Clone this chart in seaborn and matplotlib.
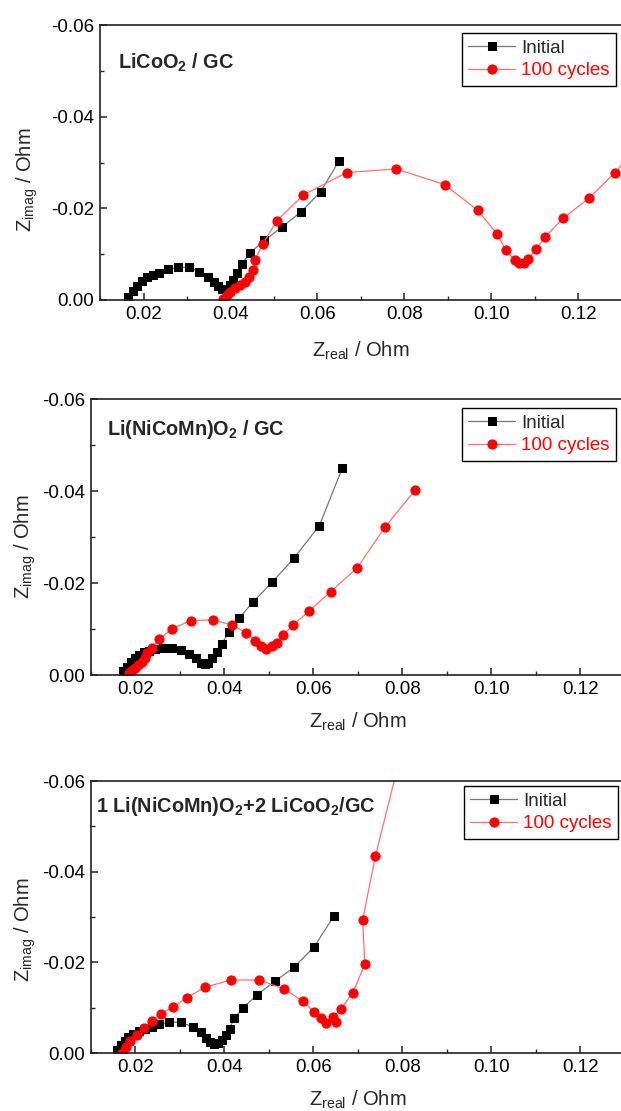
import matplotlib
matplotlib.use("Agg")
import matplotlib.pyplot as plt
import seaborn as sns
import pandas as pd
from matplotlib.ticker import MultipleLocator, FormatStrFormatter

# ---------------- data (Z_real, Z_imag in Ohm) ----------------
series_labels = ["Initial", "100 cycles"]
panel_titles = [r"LiCoO$_\mathbf{2}$ / GC",
                r"Li(NiCoMn)O$_\mathbf{2}$ / GC",
                r"1 Li(NiCoMn)O$_\mathbf{2}$+2 LiCoO$_\mathbf{2}$/GC"]

p1_init_x = [0.0165, 0.0175, 0.0184, 0.0196, 0.0207, 0.0221, 0.0236, 0.0257, 0.0280, 0.0305,
             0.0328, 0.0349, 0.0363, 0.0372, 0.0380, 0.0389, 0.0399, 0.0406, 0.0416, 0.0426,
             0.0445, 0.0478, 0.0518, 0.0562, 0.0607, 0.0650]
p1_init_y = [-0.0007, -0.0020, -0.0031, -0.0041, -0.0050, -0.0055, -0.0060, -0.0067, -0.0071, -0.0071,
             -0.0062, -0.0051, -0.0040, -0.0031, -0.0024, -0.0024, -0.0033, -0.0044, -0.0058, -0.0078,
             -0.0103, -0.0130, -0.0159, -0.0192, -0.0236, -0.0304]
p1_cyc_x = [0.0383, 0.0391, 0.0400, 0.0410, 0.0422, 0.0433, 0.0443, 0.0451, 0.0456, 0.0474,
            0.0506, 0.0567, 0.0667, 0.0780, 0.0892, 0.0968, 0.1012, 0.1033, 0.1054, 0.1064,
            0.1075, 0.1085, 0.1102, 0.1124, 0.1164, 0.1224, 0.1284, 0.1340]
p1_cyc_y = [-0.0002, -0.0011, -0.0018, -0.0026, -0.0033, -0.0040, -0.0051, -0.0065, -0.0087, -0.0122,
            -0.0172, -0.0229, -0.0278, -0.0286, -0.0252, -0.0196, -0.0145, -0.0109, -0.0087, -0.0080,
            -0.0080, -0.0089, -0.0111, -0.0138, -0.0178, -0.0222, -0.0278, -0.0340]

p2_init_x = [0.0172, 0.0181, 0.0190, 0.0200, 0.0209, 0.0220, 0.0232, 0.0244, 0.0263, 0.0283,
             0.0304, 0.0322, 0.0337, 0.0348, 0.0357, 0.0364, 0.0373, 0.0383, 0.0394, 0.0411,
             0.0433, 0.0464, 0.0508, 0.0557, 0.0614, 0.0665]
p2_init_y = [-0.0009, -0.0018, -0.0028, -0.0036, -0.0043, -0.0049, -0.0053, -0.0056, -0.0058, -0.0059,
             -0.0054, -0.0046, -0.0036, -0.0027, -0.0023, -0.0027, -0.0038, -0.0051, -0.0067, -0.0094,
             -0.0123, -0.0158, -0.0202, -0.0254, -0.0325, -0.0449]
p2_cyc_x = [0.0185, 0.0192, 0.0200, 0.0207, 0.0215, 0.0222, 0.0226, 0.0237, 0.0254, 0.0283,
            0.0325, 0.0374, 0.0417, 0.0449, 0.0469, 0.0483, 0.0494, 0.0507, 0.0518, 0.0533,
            0.0555, 0.0591, 0.0639, 0.0699, 0.0761, 0.0829]
p2_cyc_y = [-0.0004, -0.0011, -0.0016, -0.0022, -0.0029, -0.0038, -0.0047, -0.0058, -0.0078, -0.0101,
            -0.0118, -0.0120, -0.0109, -0.0092, -0.0074, -0.0062, -0.0056, -0.0062, -0.0069, -0.0088,
            -0.0109, -0.0139, -0.0181, -0.0233, -0.0321, -0.0402]

p3_init_x = [0.0160, 0.0167, 0.0176, 0.0184, 0.0196, 0.0209, 0.0222, 0.0237, 0.0254, 0.0277,
             0.0302, 0.0329, 0.0347, 0.0358, 0.0368, 0.0377, 0.0387, 0.0396, 0.0404, 0.0412,
             0.0423, 0.0443, 0.0473, 0.0514, 0.0557, 0.0602, 0.0647]
p3_init_y = [-0.0007, -0.0018, -0.0027, -0.0036, -0.0043, -0.0049, -0.0054, -0.0058, -0.0063, -0.0068,
             -0.0068, -0.0058, -0.0046, -0.0032, -0.0024, -0.0020, -0.0021, -0.0029, -0.0040, -0.0054,
             -0.0077, -0.0100, -0.0128, -0.0158, -0.0189, -0.0234, -0.0303]
p3_cyc_x = [0.0171, 0.0179, 0.0188, 0.0203, 0.0220, 0.0237, 0.0258, 0.0284, 0.0316, 0.0357,
            0.0415, 0.0479, 0.0535, 0.0576, 0.0602, 0.0617, 0.0629, 0.0651, 0.0645, 0.0662,
            0.0689, 0.0716, 0.0711, 0.0740, 0.0820]
p3_cyc_y = [-0.0001, -0.0014, -0.0026, -0.0040, -0.0056, -0.0071, -0.0086, -0.0101, -0.0122, -0.0145,
            -0.0161, -0.0161, -0.0141, -0.0115, -0.0091, -0.0077, -0.0066, -0.0069, -0.0079, -0.0097,
            -0.0132, -0.0196, -0.0293, -0.0435, -0.0750]

panels = [
    (p1_init_x, p1_init_y, p1_cyc_x, p1_cyc_y),
    (p2_init_x, p2_init_y, p2_cyc_x, p2_cyc_y),
    (p3_init_x, p3_init_y, p3_cyc_x, p3_cyc_y),
]

# ---------------- style ----------------
sns.set_style("ticks")
plt.rcParams.update({
    "axes.unicode_minus": False,
    "mathtext.fontset": "custom",
    "mathtext.rm": "Liberation Sans",
    "mathtext.it": "Liberation Sans:italic",
    "mathtext.bf": "Liberation Sans:bold",
    "xtick.direction": "in",
    "ytick.direction": "in",
    "axes.edgecolor": "#222222",
    "axes.linewidth": 1.2,
})
plt.rcParams["font.family"] = ["Liberation Sans", "DejaVu Sans"]

W, H = 621, 1111
fig = plt.figure(figsize=(W / 100, H / 100), dpi=100)

# axes boxes in pixels: left, top, right, bottom
boxes = [(100, 25, 622, 300), (90.7, 399, 624.7, 675), (90.7, 781, 624.7, 1053)]
legend_anchor = [(616, 33), (616, 408), (618, 786)]
title_pos = [(0.0141, -0.0541), (0.0136, -0.0559), (0.0113, -0.0569)]
ylabel_coords = [(-0.114, 0.436), (-0.099, 0.466), (-0.099, 0.452)]
xlabel_coords = [(0.5, -0.145), (0.5, -0.128), (0.5, -0.130)]

for i, (ix, iy, cx, cy) in enumerate(panels):
    l, t, r, b = boxes[i]
    ax = fig.add_axes([l / W, 1 - b / H, (r - l) / W, (b - t) / H])
    df_i = pd.DataFrame({"x": ix, "y": iy})
    df_c = pd.DataFrame({"x": cx, "y": cy})
    sns.lineplot(data=df_i, x="x", y="y", ax=ax, sort=False, estimator=None,
                 color="#777777", linewidth=0.9, marker="s", markersize=6,
                 markerfacecolor="black", markeredgecolor="black",
                 label=series_labels[0])
    sns.lineplot(data=df_c, x="x", y="y", ax=ax, sort=False, estimator=None,
                 color="#ff7070", linewidth=0.9, marker="o", markersize=6.6,
                 markerfacecolor="#ff0000", markeredgecolor="#ff0000",
                 label=series_labels[1])
    ax.set_xlim(0.01, 0.13)
    ax.set_ylim(0.0, -0.06)
    ax.xaxis.set_major_locator(MultipleLocator(0.02))
    ax.xaxis.set_minor_locator(MultipleLocator(0.01))
    ax.yaxis.set_major_locator(MultipleLocator(0.02))
    ax.yaxis.set_minor_locator(MultipleLocator(0.01))
    ax.xaxis.set_major_formatter(FormatStrFormatter("%.2f"))
    ax.yaxis.set_major_formatter(FormatStrFormatter("%.2f"))
    ax.tick_params(which="major", length=5, width=1.1, labelsize=13.5, pad=4,
                   top=False, right=False, colors="#222222", labelcolor="black")
    ax.tick_params(which="minor", length=3, width=1.0, top=False, right=False)
    ax.set_xlabel(r"Z$_{\mathrm{real}}$ / Ohm", fontsize=14.5)
    ax.set_ylabel(r"Z$_{\mathrm{imag}}$ / Ohm", fontsize=14.5)
    ax.xaxis.set_label_coords(*xlabel_coords[i])
    ax.yaxis.set_label_coords(*ylabel_coords[i])
    for s in ax.spines.values():
        s.set_visible(True)
    ax.text(title_pos[i][0], title_pos[i][1], panel_titles[i], fontsize=14.3,
            fontweight="bold", ha="left", va="top")
    ax_x, ax_y = legend_anchor[i]
    leg = ax.legend(loc="upper right", bbox_to_anchor=(ax_x / W, 1 - ax_y / H),
                    bbox_transform=fig.transFigure, frameon=True, fancybox=False,
                    framealpha=1, edgecolor="black", fontsize=13.5, handlelength=2.5,
                    handletextpad=0.3, borderpad=0.35, labelspacing=0.3,
                    borderaxespad=0)
    leg.get_frame().set_linewidth(1.0)
    leg.get_texts()[1].set_color("#ff0000")

fig.savefig("out.png", dpi=100)
